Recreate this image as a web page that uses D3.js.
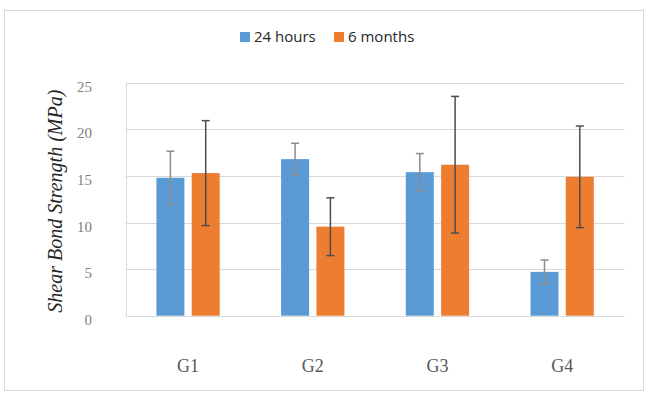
<!DOCTYPE html>
<html>
<head>
<meta charset="utf-8">
<script src="https://cdn.jsdelivr.net/npm/d3@7"></script>
<style>
  body { margin: 0; background: #fff; }
  svg { display: block; }
</style>
</head>
<body>
<svg id="chart" width="650" height="399"></svg>
<script>
// Data
const groups = ["G1", "G2", "G3", "G4"];
const seriesNames = ["24 hours", "6 months"];
const hours24 = [14.8, 16.8, 15.4, 4.7];
const months6 = [15.3, 9.55, 16.2, 14.9];
const hours24Err = [2.85, 1.7, 2.0, 1.27];
const months6Err = [5.63, 3.1, 7.33, 5.45];
const yTicks = [0, 5, 10, 15, 20, 25];

const colors = { "24 hours": "#5B9BD5", "6 months": "#ED7D31" };
const errColors = { "24 hours": "#8c8c8c", "6 months": "#4d4d4d" };

const svg = d3.select("#chart");

// outer chart frame
svg.append("rect")
  .attr("x", 4.5).attr("y", 10.5)
  .attr("width", 639).attr("height", 380)
  .attr("fill", "#fff")
  .attr("stroke", "#d9d9d9");

const plot = { left: 125.7, right: 624.5, top: 82.7, bottom: 315.7 };

const x = d3.scaleBand().domain(groups).range([plot.left, plot.right]);
const y = d3.scaleLinear().domain([0, 25]).range([plot.bottom, plot.top]);

// rows built from the arrays above
const rows = groups.map((g, i) => ({
  group: g,
  values: [
    { key: "24 hours", value: hours24[i], err: hours24Err[i] },
    { key: "6 months", value: months6[i], err: months6Err[i] }
  ]
}));

// gridlines
svg.append("g")
  .selectAll("line")
  .data(yTicks)
  .enter().append("line")
    .attr("x1", plot.left).attr("x2", plot.right)
    .attr("y1", d => Math.round(y(d)) + 0.5)
    .attr("y2", d => Math.round(y(d)) + 0.5)
    .attr("stroke", "#d9d9d9")
    .attr("stroke-width", 1);

// left axis line
svg.append("line")
  .attr("x1", Math.round(plot.left) + 0.5).attr("x2", Math.round(plot.left) + 0.5)
  .attr("y1", y(25)).attr("y2", y(0))
  .attr("stroke", "#d9d9d9");

// y tick labels
svg.append("g")
  .selectAll("text")
  .data(yTicks)
  .enter().append("text")
    .attr("x", 92)
    .attr("y", d => y(d) + 9)
    .attr("text-anchor", "end")
    .attr("font-family", "'Liberation Serif', serif")
    .attr("font-size", 15)
    .attr("fill", "#808080")
    .text(d => d);

// y axis title
svg.append("text")
  .attr("transform", `translate(62,${(plot.top + plot.bottom) / 2 + 2}) rotate(-90)`)
  .attr("text-anchor", "middle")
  .attr("font-family", "'Liberation Serif', serif")
  .attr("font-style", "italic")
  .attr("font-size", 20)
  .attr("fill", "#262626")
  .text("Shear Bond Strength (MPa)");

// bars
const inner = d3.scaleBand()
  .domain(seriesNames)
  .range([-31.65, 31.65])
  .paddingInner(0.207);

const groupSel = svg.append("g")
  .selectAll("g")
  .data(rows)
  .enter().append("g")
    .attr("transform", d => `translate(${x(d.group) + x.bandwidth() / 2},0)`);

groupSel.selectAll("rect")
  .data(d => d.values)
  .enter().append("rect")
    .attr("x", d => inner(d.key))
    .attr("y", d => y(d.value))
    .attr("width", inner.bandwidth())
    .attr("height", d => y(0) - y(d.value))
    .attr("fill", d => colors[d.key]);

// error bars
const errSel = groupSel.selectAll("g.err")
  .data(d => d.values)
  .enter().append("g")
    .attr("class", "err")
    .attr("stroke", d => errColors[d.key])
    .attr("stroke-width", 1.5);

errSel.append("line")
  .attr("x1", d => inner(d.key) + inner.bandwidth() / 2)
  .attr("x2", d => inner(d.key) + inner.bandwidth() / 2)
  .attr("y1", d => y(d.value + d.err))
  .attr("y2", d => y(d.value - d.err));

[1, -1].forEach(s => {
  errSel.append("line")
    .attr("x1", d => inner(d.key) + inner.bandwidth() / 2 - 4)
    .attr("x2", d => inner(d.key) + inner.bandwidth() / 2 + 4)
    .attr("y1", d => y(d.value + s * d.err))
    .attr("y2", d => y(d.value + s * d.err));
});

// category labels
svg.append("g")
  .selectAll("text")
  .data(groups)
  .enter().append("text")
    .attr("x", d => x(d) + x.bandwidth() / 2)
    .attr("y", 372)
    .attr("text-anchor", "middle")
    .attr("font-family", "'Liberation Serif', serif")
    .attr("font-size", 18)
    .attr("fill", "#595959")
    .text(d => d);

// legend
const legendX = [240, 334];
const legend = svg.append("g")
  .selectAll("g")
  .data(seriesNames)
  .enter().append("g")
    .attr("transform", (d, i) => `translate(${legendX[i]},0)`);

legend.append("rect")
  .attr("x", 0).attr("y", 32)
  .attr("width", 10).attr("height", 10)
  .attr("fill", d => colors[d]);

legend.append("text")
  .attr("x", 14).attr("y", 41.5)
  .attr("font-family", "'Open Sans', sans-serif")
  .attr("font-size", 15)
  .attr("fill", "#262626")
  .text(d => d);
</script>
</body>
</html>
